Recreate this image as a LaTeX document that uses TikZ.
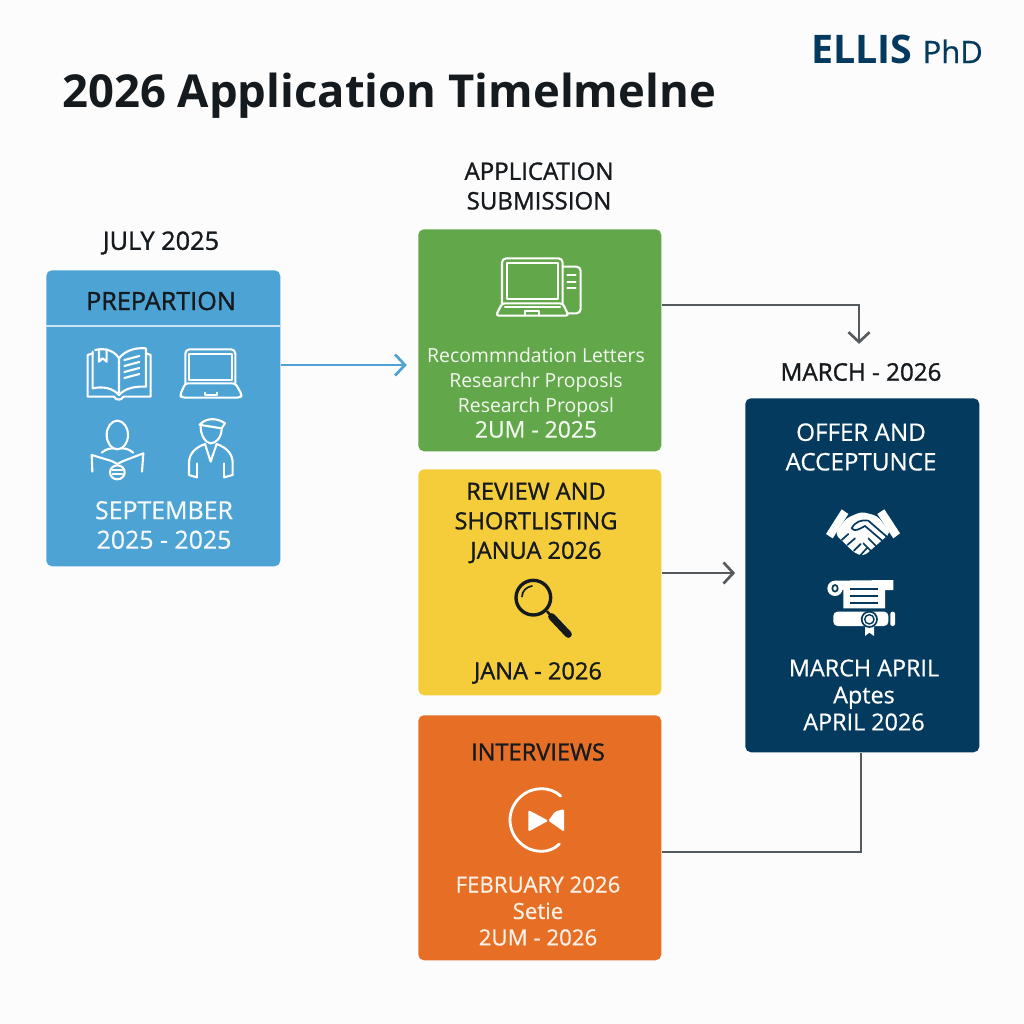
\documentclass[tikz,border=0pt]{standalone}
\usepackage{fontspec}
\setmainfont{Open Sans}
\newfontfamily\semifont[FakeBold=1.2]{Open Sans}
\newfontfamily\softfont[FakeBold=0.6]{Open Sans}
\usetikzlibrary{arrows.meta}

\definecolor{prepblue}{HTML}{4DA3D4}
\definecolor{subgreen}{HTML}{62A84A}
\definecolor{revyellow}{HTML}{F5CD3A}
\definecolor{intorange}{HTML}{E66F25}
\definecolor{offnavy}{HTML}{033A5E}
\definecolor{inkblack}{HTML}{151A1E}
\definecolor{linegray}{HTML}{555A5E}
\newcommand{\fsz}[2]{\fontsize{#1}{#2}\selectfont}

\begin{document}
\begin{tikzpicture}[x=0.025cm,y=-0.025cm]
      \tikzstyle{box}=[rectangle,rounded corners=4pt,inner sep=0pt,anchor=north west]
      \tikzstyle{txt}=[align=center,inner sep=0pt,font=\semifont\fsz{16.8}{21}]
      \tikzstyle{wtxt}=[align=center,inner sep=0pt,font=\softfont\fsz{16.5}{19.2}]
      \tikzstyle{wline}=[draw=white,line width=1.5pt,line cap=round,line join=round]
      \tikzstyle{kline}=[draw=inkblack,line cap=round]
      \tikzstyle{flow}=[line width=1.9pt,draw=linegray,
        -{Straight Barb[length=7pt,width=15pt,line width=1.9pt]}]
      \tikzstyle{zoomed}=[x=0.008333cm,y=-0.008333cm]

      \fill[white!99!black] (0,0) rectangle (1024,1024);

      \node[anchor=west,inner sep=0pt,font=\bfseries\fsz{32.3}{36},text=inkblack] (title) at (62,96)
      {2026 Application Timelmelne};
      \node[inner sep=0pt,font=\bfseries\fsz{28}{30},text=offnavy] (ellis) at (897,49)
      {ELLIS {\softfont\mdseries\fsz{22}{24}PhD}};

      % the five boxes
      \node[box,fill=prepblue,minimum width=234*0.025cm,minimum height=296*0.025cm]  (Prep) at (46,270)  {};
      \node[box,fill=subgreen,minimum width=243*0.025cm,minimum height=222*0.025cm]  (Sub)  at (418,229) {};
      \node[box,fill=revyellow,minimum width=243*0.025cm,minimum height=226*0.025cm] (Rev)  at (418,469) {};
      \node[box,fill=intorange,minimum width=243*0.025cm,minimum height=245*0.025cm] (Int)  at (418,715) {};
      \node[box,fill=offnavy,minimum width=234*0.025cm,minimum height=354*0.025cm]   (Off)  at (745,398) {};

      % labels over the boxes
      \node[txt,text=inkblack,font=\semifont\fsz{18}{21}] (julyL)  at (161,243) {JULY 2025};
      \node[txt,text=inkblack,font=\semifont\fsz{17.1}{21}] (subL)   at (539,186) {APPLICATION\\SUBMISSION};
      \node[txt,text=inkblack,font=\semifont\fsz{17.2}{21}] (marchL) at (861,372) {MARCH - 2026};

      % connectors
      \draw[flow,draw=prepblue] (Prep.east |- 0,365) -- (Sub.west |- 0,365)
      [shorten >=8pt];
      \draw[flow] (Sub.east |- 0,305) -| ([xshift=-1.4pt,yshift=13.5pt]marchL.north);
      \draw[flow] (Rev.east |- 0,573) -- ([xshift=-7pt]Off.west |- 0,573);
      \draw[line width=1.9pt,draw=linegray] (Int.east |- 0,852) -| ([xshift=-1pt]Off.south);

      % box texts
      \node[txt,text=inkblack,font=\semifont\fsz{17.9}{21}] (prepT) at (161,301) {PREPARTION};
      \draw[draw=white!70!prepblue,line width=1pt] (Prep.west |- 0,326) -- (Prep.east |- 0,326);
      \node[wtxt,text=white!95!prepblue,font=\softfont\fsz{17.7}{21}] (prepD) at (164,525) {SEPTEMBER\\2025 - 2025};

      \node[wtxt,text=white!92!subgreen,font=\fsz{13.8}{17.7}] (subT) at (536,393)
      {Recommndation Letters\\Researchr Proposls\\Research Proposl\\{\softfont\fsz{16.3}{18}2UM - 2025}};

      \node[txt,text=inkblack] (revT) at (536,523) {REVIEW AND\\SHORTLISTING\\JANUA 2026};
      \node[txt,text=inkblack] (revD) at (538,673) {JANA - 2026};

      \node[txt,text=inkblack] (intT) at (538,752) {INTERVIEWS};
      \node[wtxt,text=white!90!intorange,font=\softfont\fsz{15.8}{18.8}] (intD) at (538,911) {FEBRUARY 2026\\Setie\\2UM - 2026};

      \node[wtxt,text=white,font=\softfont\fsz{17.2}{21}] (offT) at (861,447) {OFFER AND\\ACCEPTUNCE};
      \node[wtxt,text=white,font=\softfont\fsz{16.6}{19.2}] (offD) at (864,695) {MARCH APRIL\\Aptes\\APRIL 2026};

      % prep icons
      \begin{scope}[shift={(40,260)},zoomed]
        \draw[wline] (165,270) .. controls (200,262) and (225,275) .. (237,295) -- (237,405)
        .. controls (220,385) and (190,378) .. (158,385) -- (158,275);
        \draw[wline] (237,295) .. controls (255,272) and (285,262) .. (318,265) -- (318,380)
        .. controls (285,378) and (255,385) .. (237,405);
        \draw[wline] (158,280) -- (143,285) -- (143,410) -- (222,410)
        .. controls (228,422) and (245,422) .. (250,410) -- (332,410) -- (332,285) -- (318,280);
        \draw[wline] (177,268) -- (177,305) -- (188,295) -- (200,305) -- (200,268);
        \foreach \ly in {300,318,336,354}
          \draw[wline] (253,\ly) -- (298,\ly-12);
        \draw[wline,rounded corners=3pt] (436,370) -- (436,268) -- (586,268) -- (586,370);
        \draw[wline] (448,282) rectangle (576,360);
        \draw[wline,rounded corners=2pt] (436,370) -- (586,370) -- (606,405) -- (600,413)
        -- (426,413) -- (420,405) -- cycle;
        \draw[wline] (495,398) -- (495,405) -- (530,405) -- (530,398);
        \draw[wline] (232,525) ellipse [x radius=32,y radius=43];
        \draw[wline] (157,635) -- (155,585) -- (215,603) -- (232,612) -- (250,603) -- (310,580) -- (306,635);
        \draw[wline] (185,578) .. controls (200,565) and (215,565) .. (222,565);
        \draw[wline] (280,578) .. controls (265,565) and (250,565) .. (243,565);
        \draw[wline] (232,637) ellipse [x radius=22,y radius=21];
        \draw[wline] (218,630) -- (246,630) (218,642) -- (246,642);
        \draw[wline] (478,495) .. controls (500,470) and (535,475) .. (555,490) -- (545,505)
        -- (482,495);
        \draw[wline] (482,500) .. controls (482,530) and (500,550) .. (512,550)
        .. controls (530,550) and (545,530) .. (545,505);
        \draw[wline] (495,552) .. controls (460,565) and (447,585) .. (447,610) -- (447,645) -- (470,652);
        \draw[wline] (530,552) .. controls (565,565) and (578,585) .. (578,610) -- (578,645) -- (552,652);
        \draw[wline] (495,552) -- (512,605) -- (530,552);
        \draw[wline] (470,610) -- (470,652) (552,610) -- (552,652);
      \end{scope}

      % sub icon
      \begin{scope}[shift={(410,225)},zoomed]
        \draw[wline,rounded corners=3pt] (276,235) -- (276,100) -- (458,100) -- (458,235);
        \draw[wline] (290,115) rectangle (445,222);
        \draw[wline,rounded corners=2pt] (276,235) -- (458,235) -- (476,272) -- (258,272) -- cycle;
        \draw[wline] (285,245) -- (450,245);
        \draw[wline] (345,272) -- (345,257) -- (388,257) -- (388,272);
        \draw[wline,rounded corners=3pt] (458,125) -- (512,125) -- (512,265) -- (472,265);
        \foreach \ly in {150,170,190}
          \draw[wline] (472,\ly) -- (497,\ly);
      \end{scope}

      % rev icon
      \begin{scope}[shift={(410,465)},zoomed]
        \draw[kline,line width=2.4pt] (370,398) circle [radius=52];
        \draw[kline,line width=1.2pt] (336,395) .. controls (336,378) and (350,365) .. (366,363);
        \draw[kline,line width=1.8pt] (412,440) -- (425,455);
        \draw[kline,line width=5pt] (425,455) -- (475,508);
      \end{scope}

      % int icon
      \begin{scope}[shift={(410,710)},zoomed]
        \draw[wline,line width=2pt] (452,258) .. controls (420,228) and (365,228) .. (330,262)
        .. controls (290,300) and (290,360) .. (330,398)
        .. controls (365,432) and (420,432) .. (448,402);
        \fill[white,rounded corners=1pt] (355,300) -- (415,332) -- (355,365) -- cycle;
        \fill[white,rounded corners=1pt] (462,297) -- (462,365) -- (415,332) -- (435,305) -- cycle;
      \end{scope}

      % off icons
      \begin{scope}[shift={(740,390)},zoomed]
        \fill[white] (305,358) -- (325,372) -- (278,445) -- (258,432) -- cycle;
        \fill[white] (433,358) -- (480,430) -- (460,445) -- (412,372) -- cycle;
        \fill[white,rounded corners=3pt] (318,385) -- (365,365) -- (412,378) -- (452,428) -- (372,498)
        -- (345,490) -- (285,432) -- cycle;
        \draw[draw=offnavy,line width=1.2pt,line cap=round,line join=round]
        (335,415) .. controls (345,395) and (365,388) .. (385,392) -- (440,440);
        \draw[draw=offnavy,line width=1.2pt,line cap=round]
        (335,415) .. controls (345,428) and (360,415) .. (375,408) -- (430,455)
        (305,450) -- (325,432) (322,465) -- (345,445) (342,482) -- (362,462) (362,495) -- (380,475)
        (385,445) -- (410,470) (370,460) -- (395,485);
        \fill[white] (285,595) circle [radius=23];
        \fill[white] (285,572) -- (460,570) -- (460,600) -- (435,600) -- (435,655) -- (310,655) -- (310,600)
        -- (285,595) -- cycle;
        \draw[draw=offnavy,line width=1.2pt] (285,595) ellipse [x radius=8,y radius=10];
        \foreach \ly in {597,618,640}
          \draw[draw=offnavy,line width=1.3pt] (330,\ly) -- (415,\ly);
        \fill[white,rounded corners=3pt] (280,665) rectangle (445,708);
        \fill[white,rounded corners=1.5pt] (451,665) rectangle (465,708);
        \fill[white] (375,705) -- (375,738) -- (388,728) -- (402,738) -- (402,705) -- cycle;
        \draw[draw=offnavy,fill=white,line width=1.2pt] (388,688) circle [radius=23];
        \draw[draw=offnavy,line width=1pt] (388,688) circle [radius=14];
      \end{scope}
    \end{tikzpicture}
\end{document}
